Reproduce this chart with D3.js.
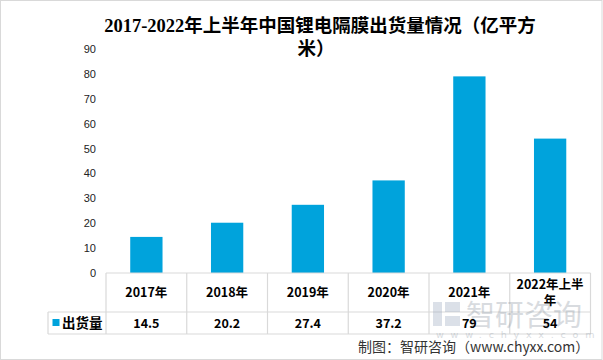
<!DOCTYPE html>
<html><head><meta charset="utf-8">
<script src="https://cdn.jsdelivr.net/npm/d3@7"></script>
<style>body{margin:0;background:#fff}svg{display:block}</style>
</head><body>
<script>
const categories = ["2017年","2018年","2019年","2020年","2021年","2022年上半年"];
const headerLines = [["2017年"],["2018年"],["2019年"],["2020年"],["2021年"],["2022年上半","年"]];
const values = [14.5,20.2,27.4,37.2,79,54];
const valueLabels = ["14.5","20.2","27.4","37.2","79","54"];
const yTicks = [0,10,20,30,40,50,60,70,80,90];
const seriesName = "出货量";
const title1 = "2017-2022年上半年中国锂电隔膜出货量情况（亿平方";
const title2 = "米）";
const credit = "制图：智研咨询（www.chyxx.com）";

const W=603,H=360, color="#00A3DC", grid="#d9d9d9";
const svg=d3.select("body").append("svg").attr("width",W).attr("height",H);
svg.append("rect").attr("x",0.5).attr("y",0.5).attr("width",W-1.5).attr("height",H-1).attr("fill","#fff").attr("stroke",grid);

const x=d3.scaleBand().domain(categories).range([106,590.5]).paddingInner(0.6).paddingOuter(0.3);
const xCell=d3.scaleBand().domain(categories).range([106,590.5]);
const y=d3.scaleLinear().domain([0,90]).range([273,49]);

// title
const tf="'Liberation Serif','Noto Sans CJK SC',serif";
svg.append("text").attr("x",320).attr("y",32).attr("text-anchor","middle").attr("font-family",tf).attr("font-size",18.5).attr("font-weight","bold").attr("fill","#000").text(title1);
svg.append("text").attr("x",316).attr("y",55).attr("text-anchor","middle").attr("font-family",tf).attr("font-size",18.5).attr("font-weight","bold").attr("fill","#000").text(title2);

// y axis labels
const yAxis=d3.axisLeft(y).tickValues(yTicks).tickSize(0).tickPadding(0);
const ga=svg.append("g").attr("transform","translate(96,0)").call(yAxis);
ga.select(".domain").remove();
ga.selectAll("text").attr("font-family","'Liberation Sans',Arial,sans-serif").attr("font-size",11).attr("fill","#222");

// bars
svg.append("g").selectAll("rect").data(values).join("rect")
  .attr("x",(d,i)=>x(categories[i])).attr("width",x.bandwidth())
  .attr("y",d=>y(d)).attr("height",d=>y(0)-y(d)).attr("fill",color);

// table
const T0=273,T1=312,T2=334, L=48, R=590.5;
const g=svg.append("g").attr("stroke",grid).attr("stroke-width",1.2).attr("fill","none");
g.append("line").attr("x1",106).attr("x2",R).attr("y1",T0).attr("y2",T0);
g.append("line").attr("x1",L).attr("x2",R).attr("y1",T1).attr("y2",T1);
g.append("line").attr("x1",L).attr("x2",R).attr("y1",T2).attr("y2",T2);
g.append("line").attr("x1",L).attr("x2",L).attr("y1",T1).attr("y2",T2);
categories.forEach(c=>{g.append("line").attr("x1",xCell(c)).attr("x2",xCell(c)).attr("y1",T0).attr("y2",T2);});
g.append("line").attr("x1",R).attr("x2",R).attr("y1",T0).attr("y2",T2);

// watermark
const wm=svg.append("g").attr("opacity",0.3);
wm.append("rect").attr("x",433).attr("y",302).attr("width",9).attr("height",24).attr("fill","#8a9bb5");
wm.append("rect").attr("x",445).attr("y",302).attr("width",15).attr("height",10).attr("fill","#8a9bb5");
wm.append("rect").attr("x",445).attr("y",316).attr("width",15).attr("height",10).attr("fill","#8a9bb5");
wm.append("text").attr("x",466).attr("y",326).attr("font-family","'Noto Sans CJK SC',sans-serif").attr("font-size",29).attr("fill","#7f8c99").text("智研咨询");
wm.append("text").attr("x",436).attr("y",338).attr("font-family","'DejaVu Sans',sans-serif").attr("font-size",9.5).attr("letter-spacing",6.8).attr("fill","#7f8c99").text("www.chyxx.com");

const ff="'Noto Sans CJK SC','DejaVu Sans',sans-serif";
// header text
headerLines.forEach((lines,i)=>{
  const cx=xCell(categories[i])+xCell.bandwidth()/2;
  const base = lines.length===1?[297]:[289,305];
  lines.forEach((t,k)=>svg.append("text").attr("x",cx).attr("y",base[k]).attr("text-anchor","middle")
    .attr("font-family",ff).attr("font-size",12.5).attr("font-weight","bold").attr("fill","#000").text(t));
});
// values row
valueLabels.forEach((t,i)=>{
  const cx=xCell(categories[i])+xCell.bandwidth()/2;
  svg.append("text").attr("x",cx).attr("y",327.5).attr("text-anchor","middle")
    .attr("font-family",ff).attr("font-size",12.5).attr("font-weight","bold").attr("fill","#000").text(t);
});
// legend cell
svg.append("rect").attr("x",52.5).attr("y",319).attr("width",7).attr("height",7).attr("fill",color);
svg.append("text").attr("x",62).attr("y",328).attr("font-family",ff).attr("font-size",13.5).attr("font-weight","bold").attr("fill","#000").text(seriesName);

// credit
svg.append("text").attr("x",358).attr("y",352).attr("font-family",ff).attr("font-size",14).attr("fill","#333").text(credit);
</script>
</body></html>
